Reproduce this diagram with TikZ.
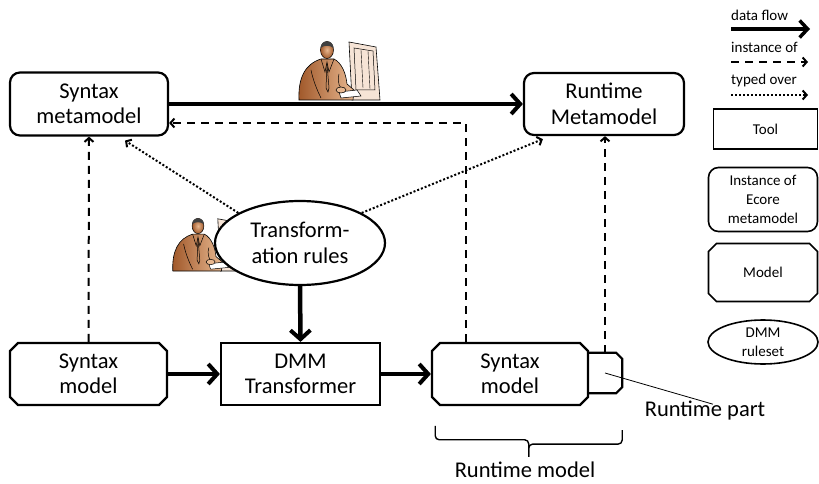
\documentclass[tikz,border=0pt]{standalone}
\usepackage{fontspec}
\setmainfont{Carlito}
\usetikzlibrary{arrows.meta,shapes.misc,shapes.geometric,calc}

\definecolor{skinA}{HTML}{A0582A}
\definecolor{skinB}{HTML}{E8B890}
\definecolor{monfill}{HTML}{F6E4D6}

\newcommand{\bigtxt}{\fontsize{22.5}{25.5}\selectfont}
\newcommand{\smalltxt}{\fontsize{15}{19}\selectfont}

\tikzset{
  box/.style={draw, line width=2.2pt, align=center, font=\bigtxt, inner sep=0pt},
  toolbox/.style={box, rectangle},
  ecorebox/.style={box, rectangle, rounded corners=10pt},
  modelbox/.style={box, chamfered rectangle, chamfered rectangle xsep=4pt, chamfered rectangle ysep=4pt},
  rulebox/.style={box, ellipse},
  flow/.style={line width=4.5pt, -{Straight Barb[length=9pt,width=20pt,line width=4pt]}},
  inst/.style={line width=2pt, dash pattern=on 8pt off 6pt, -{Straight Barb[length=4pt,width=9pt,line width=2pt]}},
  typed/.style={line width=2pt, dash pattern=on 2pt off 2pt, -{Straight Barb[length=4pt,width=9pt,line width=2pt]}},
  legtxt/.style={font=\smalltxt, inner sep=0pt},
  operator/.pic={
    % monitor
    \draw[line width=0.6pt, fill=monfill] (22,-8) -- (49,-3) -- (53,50) -- (25,50) -- cycle;
    \draw[line width=0.5pt] (27,-2) -- (46,1) -- (48,40) -- (29,40) -- cycle;
    \draw[line width=0.4pt] (34,0) -- (36,38) (41,1) -- (43,39);
    % torso
    \shade[left color=skinA, right color=skinB, draw=black, line width=0.6pt]
      (-28,50) .. controls (-29,28) and (-22,14) .. (-6,9) -- (7,9)
      .. controls (15,13) and (19,24) .. (20,34) -- (27,40) -- (26,50) -- cycle;
    % collar and tie
    \draw[line width=0.5pt] (-6,9) -- (-2,22) -- (0,12) -- (2,22) -- (7,9);
    \draw[line width=0.5pt] (0,14) -- (-1,38) -- (1,42) -- (2,38) -- cycle;
    \draw[line width=0.5pt] (-16,20) .. controls (-14,30) and (-10,40) .. (-6,48);
    \draw[line width=0.5pt] (12,24) .. controls (10,32) and (12,38) .. (18,42);
    % hands on the keyboard
    \draw[line width=0.5pt, fill=white] (12,42) -- (30,40) -- (34,46) -- (14,48) -- cycle;
    \draw[line width=0.5pt, fill=skinB] (14,40) ellipse (5pt and 3pt);
    % head and hair
    \shade[inner color=skinB, outer color=skinA, draw=black, line width=0.5pt] (0,0) ellipse (6.5pt and 8.5pt);
    \fill[black!75] (-6.4,-2) .. controls (-6.5,-11) and (6.5,-11) .. (6.4,-2)
      .. controls (3,-5) and (-3,-5) .. cycle;
  }
}

\begin{document}
\begin{tikzpicture}[x=1pt, y=-1pt]
  \useasboundingbox (0,0) rectangle (819,484);

  % operators working on the tools
  \pic at (327,50) {operator};
  \pic[scale=0.9] at (198,226) {operator};

  % main nodes
  \node[ecorebox, minimum width=158pt, minimum height=63pt] (smm) at (89,104) {Syntax\\metamodel};
  \node[ecorebox, minimum width=160pt, minimum height=62pt] (rmm) at (604,104) {Runtime\\Metamodel};
  \node[rulebox, fill=white, minimum width=170pt, minimum height=84pt] (ell) at (300,243) {Transform-\\ation rules};
  \node[modelbox, minimum width=157pt, minimum height=62pt] (sm1) at (88.5,374) {Syntax\\model};
  \node[toolbox, minimum width=159pt, minimum height=62pt] (dmm) at (300.5,374) {DMM\\Transformer};
  \node[modelbox, minimum width=156pt, minimum height=62pt] (sm2) at (510,374) {Syntax\\model};
  % runtime part attached to the right of the runtime syntax model
  \node[minimum width=34pt, minimum height=40pt, inner sep=0pt] (rp) at (605,373) {};
  \draw[line width=2.2pt]
    (rp.north west) -- ([xshift=-6pt]rp.north east) -- ([yshift=-6pt]rp.north east)
    -- ([yshift=6pt]rp.south east) -- ([xshift=-6pt]rp.south east) -- (rp.south west);

  % labels
  \node[font=\bigtxt, inner sep=0pt] (rplbl) at (705,411) {Runtime part};
  \node[font=\bigtxt, inner sep=0pt] (rmlbl) at (525,470) {Runtime model};

  % data flow
  \draw[flow] (smm.east) -- (rmm.west);
  \draw[flow] (ell.south) -- (dmm.north);
  \draw[flow] (sm1.east) -- (dmm.west);
  \draw[flow] (dmm.east) -- (sm2.west);

  % instance-of relations
  \coordinate (bend) at (466,123);
  \draw[inst] (sm2.north -| bend) |- ([yshift=-19pt]smm.east);
  \draw[inst] (sm1.north) -- (smm.south);
  \draw[inst] (rp.north) -- (rmm.south -| rp.north);

  % typed-over relations
  \draw[typed] (ell.154) -- ([xshift=36pt, yshift=-4pt]smm.south);
  \draw[typed] (ell.26) -- ([xshift=20pt, yshift=-3pt]rmm.south west);

  % runtime part pointer and runtime model brace
  \draw[line width=0.8pt] (rp.center) -- ([xshift=8pt, yshift=-3pt]rplbl.north);
  \coordinate (brl) at ([yshift=-24pt]sm2.south west);
  \coordinate (brr) at ([yshift=-24pt]rp.east |- sm2.south);
  \coordinate (brm) at ($(brl)!0.5!(brr)$);
  \draw[line width=1.4pt, rounded corners=4pt]
    (brl) -- ++(0,14) -| ([yshift=-29pt]brm);
  \draw[line width=1.4pt, rounded corners=4pt]
    (brr) -- ++(0,14) -| ([yshift=-29pt]brm);

  % legend
  \node[legtxt, anchor=west] (lgf) at (731,15) {data flow};
  \node[legtxt, anchor=west] (lgi) at (731,47) {instance of};
  \node[legtxt, anchor=west] (lgt) at (731,81) {typed over};
  \coordinate (lf1) at (731,29);  \coordinate (lf2) at (810,29);
  \coordinate (li1) at (731,62);  \coordinate (li2) at (808,62);
  \coordinate (lt1) at (731,95);  \coordinate (lt2) at (808,95);
  \draw[flow, -{Straight Barb[length=8pt,width=17pt,line width=3.5pt]}, line width=4pt] (lf1) -- (lf2);
  \draw[inst] (li1) -- (li2);
  \draw[typed] (lt1) -- (lt2);

  \node[toolbox, line width=1.6pt, font=\smalltxt, minimum width=104pt, minimum height=40pt] (ltool) at (765.5,129) {Tool};
  \node[ecorebox, line width=1.6pt, font=\smalltxt, minimum width=109pt, minimum height=64pt] (lecore) at (763,199.5) {Instance of\\Ecore\\metamodel};
  \node[modelbox, line width=1.6pt, font=\smalltxt, minimum width=109pt, minimum height=58pt] (lmodel) at (763,272.5) {Model};
  \node[rulebox, line width=1.6pt, font=\smalltxt, minimum width=110pt, minimum height=44pt] (lrule) at (763,342) {DMM\\ruleset};
\end{tikzpicture}
\end{document}
